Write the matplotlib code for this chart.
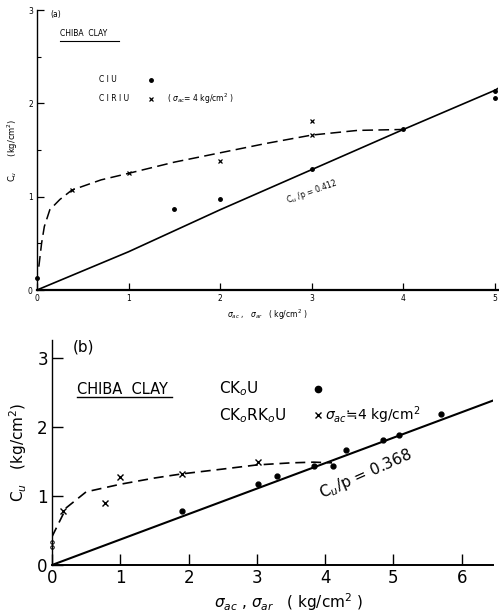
import matplotlib
matplotlib.use("Agg")
import matplotlib.pyplot as plt

# ---- panel (a) data ----
a_ciu_x = [0.0, 1.5, 2.0, 3.0, 4.0, 5.0, 5.0]
a_ciu_y = [0.13, 0.87, 0.98, 1.30, 1.72, 2.13, 2.06]
a_ciriu_x = [0.38, 1.0, 2.0, 3.0, 3.0]
a_ciriu_y = [1.07, 1.25, 1.38, 1.66, 1.81]
a_line_x = [0.0, 1.0, 2.0, 3.0, 4.0, 5.0, 5.05]
a_line_y = [0.0, 0.41, 0.86, 1.29, 1.72, 2.14, 2.17]
a_curve_x = [0.02, 0.05, 0.08, 0.14, 0.25, 0.38, 0.7, 1.0, 1.5, 2.0, 2.5, 3.0, 3.5, 4.0]
a_curve_y = [0.25, 0.5, 0.68, 0.86, 0.97, 1.07, 1.18, 1.25, 1.37, 1.47, 1.57, 1.66, 1.71, 1.72]

# ---- panel (b) data ----
b_ck0u_x = [1.90, 3.02, 3.29, 3.83, 4.11, 4.31, 4.84, 5.08, 5.70]
b_ck0u_y = [0.78, 1.17, 1.29, 1.43, 1.44, 1.66, 1.81, 1.89, 2.19]
b_open_x = [0.0, 0.0]
b_open_y = [0.26, 0.33]
b_rk_x = [0.16, 0.78, 1.0, 1.9, 3.02]
b_rk_y = [0.78, 0.90, 1.28, 1.32, 1.49]
b_line_x = [0.0, 6.45]
b_line_y = [0.0, 2.38]
b_curve_x = [0.0, 0.07, 0.21, 0.5, 1.0, 1.5, 1.9, 2.5, 3.0, 3.5, 3.83, 4.1]
b_curve_y = [0.41, 0.55, 0.83, 1.06, 1.17, 1.26, 1.32, 1.39, 1.45, 1.48, 1.49, 1.48]

fig = plt.figure(figsize=(4.99, 6.16), dpi=100)

# ---------------- panel (a) ----------------
ax1 = fig.add_axes([37 / 499, 1 - 290 / 616, 460.7 / 499, 280 / 616])
ax1.set_xlim(0, 5.03)
ax1.set_ylim(0, 3)
for s in ["top", "right"]:
    ax1.spines[s].set_visible(False)
ax1.spines["left"].set_linewidth(1.0)
ax1.spines["bottom"].set_linewidth(1.6)
ax1.set_xticks([0, 1, 2, 3, 4, 5])
ax1.set_yticks([0, 1, 2, 3])
ax1.set_yticks([0.5, 1.5, 2.5], minor=True)
ax1.tick_params(axis="both", direction="in", length=5, width=0.9, labelsize=5.5, pad=3)
ax1.tick_params(axis="y", which="minor", direction="in", length=3, width=0.8)
ax1.plot(a_line_x, a_line_y, color="black", lw=1.2)
ax1.plot(a_curve_x, a_curve_y, color="black", lw=1.1, dashes=(7, 3.5))
ax1.plot(a_ciu_x, a_ciu_y, "o", color="black", ms=2.5, clip_on=False)
ax1.plot(a_ciriu_x, a_ciriu_y, "x", color="black", ms=3, mew=0.9, clip_on=False)
ax1.text(0.15, 2.93, "(a)", fontsize=5.5)
ax1.text(0.25, 2.72, "CHIBA  CLAY", fontsize=5.5)
ax1.plot([0.25, 0.9], [2.67, 2.67], color="black", lw=0.8)
ax1.text(0.68, 2.25, "C I U", fontsize=5.5, va="center")
ax1.plot([1.25], [2.25], "o", color="black", ms=2.5)
ax1.text(0.68, 2.05, "C I R I U", fontsize=5.5, va="center")
ax1.plot([1.25], [2.05], "x", color="black", ms=3, mew=0.9)
ax1.text(1.42, 2.05, r"( $\sigma_{ac}$= 4 kg/cm$^2$ )", fontsize=5.5, va="center")
ax1.text(3.0, 1.05, "C$_u$ /p = 0.412", fontsize=5.5, rotation=20, ha="center", va="center")
ax1.set_ylabel("C$_u$      (kg/cm$^2$)", fontsize=6, labelpad=6)
ax1.set_xlabel(r"$\sigma_{ac}$ ,   $\sigma_{ar}$   ( kg/cm$^2$ )", fontsize=5.5, labelpad=3)

# ---------------- panel (b) ----------------
ax2 = fig.add_axes([52 / 499, 1 - 565 / 616, 440.5 / 499, 225 / 616])
ax2.set_xlim(0, 6.45)
ax2.set_ylim(0, 3.26)
for s in ["top", "right"]:
    ax2.spines[s].set_visible(False)
ax2.spines["left"].set_linewidth(1.0)
ax2.spines["bottom"].set_linewidth(1.4)
ax2.set_xticks([0, 1, 2, 3, 4, 5, 6])
ax2.set_yticks([0, 1, 2, 3])
ax2.tick_params(axis="both", direction="in", length=8, width=1.0, labelsize=12, pad=3)
ax2.plot(b_line_x, b_line_y, color="black", lw=1.5)
ax2.plot(b_curve_x, b_curve_y, color="black", lw=1.2, dashes=(6, 3.5))
ax2.plot(b_ck0u_x, b_ck0u_y, "o", color="black", ms=3.5, clip_on=False)
ax2.plot(b_open_x, b_open_y, "o", color="black", mfc="white", ms=2.5, mew=0.7, clip_on=False)
ax2.plot(b_rk_x, b_rk_y, "x", color="black", ms=4, mew=1.0, clip_on=False)
ax2.text(0.3, 3.1, "(b)", fontsize=11)
ax2.text(0.36, 2.55, "CHIBA  CLAY", fontsize=10.5, va="center")
ax2.plot([0.36, 1.76], [2.43, 2.43], color="black", lw=1.0)
ax2.text(2.45, 2.55, "CK$_o$U", fontsize=11, va="center")
ax2.plot([3.9], [2.55], "o", color="black", ms=4.5)
ax2.text(2.45, 2.17, "CK$_o$RK$_o$U", fontsize=11, va="center")
ax2.plot([3.9], [2.17], "x", color="black", ms=4.5, mew=1.0)
ax2.text(4.0, 2.17, r"$\sigma_{ac}$≒4 kg/cm$^2$", fontsize=10, va="center")
ax2.text(4.6, 1.32, "C$_u$/p = 0.368", fontsize=11, rotation=24, ha="center", va="center")
ax2.set_ylabel("C$_u$   (kg/cm$^2$)", fontsize=11, labelpad=6)
ax2.set_xlabel(r"$\sigma_{ac}$ , $\sigma_{ar}$   ( kg/cm$^2$ )", fontsize=11, labelpad=1)
ax2.xaxis.set_label_coords(0.536, -0.115)

fig.savefig("out.png", dpi=100)
